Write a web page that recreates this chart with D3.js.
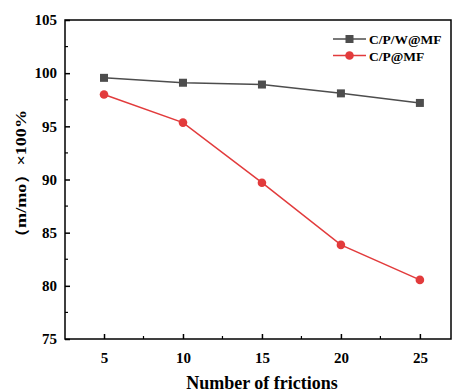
<!DOCTYPE html>
<html>
<head>
<meta charset="utf-8">
<script src="https://d3js.org/d3.v7.min.js"></script>
<style>
  body { margin: 0; background: #fff; }
  text { font-family: "Liberation Serif", "Times New Roman", serif; font-weight: bold; }
</style>
</head>
<body>
<svg id="chart" width="453" height="392"></svg>
<script>
var frictions = [5, 10, 15, 20, 25];
var cpwValues = [99.56, 99.1, 98.93, 98.1, 97.2];
var cpValues = [98.0, 95.35, 89.7, 83.85, 80.56];
var seriesNames = ["C/P/W@MF", "C/P@MF"];
var xTicks = [5, 10, 15, 20, 25];
var yTicks = [75, 80, 85, 90, 95, 100, 105];

var svg = d3.select("#chart");
var m = {left: 65, right: 2, top: 20, bottom: 53};
var width = 453 - m.left - m.right,
    height = 392 - m.top - m.bottom;

var x = d3.scaleLinear().domain([2.53, 26.97]).range([0, width]);
var y = d3.scaleLinear().domain([75, 105]).range([height, 0]);

var g = svg.append("g").attr("transform", "translate(" + m.left + "," + m.top + ")");

// frame
g.append("rect").attr("width", width).attr("height", height)
  .attr("fill", "none").attr("stroke", "black").attr("stroke-width", 1.5);

// minor ticks
var xMinor = d3.range(7.5, 26, 5);
var yMinor = d3.range(77.5, 105, 5);
g.selectAll(".xminor").data(xMinor).enter().append("line")
  .attr("x1", d => x(d)).attr("x2", d => x(d))
  .attr("y1", height).attr("y2", height - 3)
  .attr("stroke", "black").attr("stroke-width", 1.2);
g.selectAll(".yminor").data(yMinor).enter().append("line")
  .attr("x1", 0).attr("x2", 3)
  .attr("y1", d => y(d)).attr("y2", d => y(d))
  .attr("stroke", "black").attr("stroke-width", 1.2);

// axes
var xAxis = g.append("g").attr("transform", "translate(0," + height + ")")
  .call(d3.axisBottom(x).tickValues(xTicks).tickSizeInner(-5).tickSizeOuter(0).tickPadding(13));
var yAxis = g.append("g")
  .call(d3.axisLeft(y).tickValues(yTicks).tickSizeInner(-5).tickSizeOuter(0).tickPadding(8));
[xAxis, yAxis].forEach(function (a) {
  a.select(".domain").remove();
  a.selectAll("line").attr("stroke", "black").attr("stroke-width", 1.5);
  a.selectAll("text").style("font-size", "15px").style("font-family", "Liberation Serif").style("font-weight", "bold").attr("fill", "black");
});

// lines
var series = [
  {name: seriesNames[0], values: cpwValues, color: "#4d4d4d", shape: "square"},
  {name: seriesNames[1], values: cpValues, color: "#e23b3c", shape: "circle"}
];
var line = d3.line().x((d, i) => x(frictions[i])).y(d => y(d));

series.forEach(function (s) {
  g.append("path").datum(s.values).attr("d", line)
    .attr("fill", "none").attr("stroke", s.color).attr("stroke-width", 1.5);
  if (s.shape === "square") {
    g.selectAll(".sq").data(s.values).enter().append("rect")
      .attr("x", (d, i) => x(frictions[i]) - 4).attr("y", d => y(d) - 4)
      .attr("width", 8).attr("height", 8).attr("fill", s.color);
  } else {
    g.selectAll(".ci").data(s.values).enter().append("circle")
      .attr("cx", (d, i) => x(frictions[i])).attr("cy", d => y(d))
      .attr("r", 4.3).attr("fill", s.color);
  }
});

// legend
var leg = svg.append("g").attr("transform", "translate(333,39)");
series.forEach(function (s, i) {
  var row = leg.append("g").attr("transform", "translate(0," + (i * 16.5) + ")");
  row.append("line").attr("x1", 0).attr("x2", 33).attr("y1", 0).attr("y2", 0)
    .attr("stroke", s.color).attr("stroke-width", 1.5);
  if (s.shape === "square") {
    row.append("rect").attr("x", 12.5).attr("y", -4).attr("width", 8).attr("height", 8).attr("fill", s.color);
  } else {
    row.append("circle").attr("cx", 16.5).attr("cy", 0).attr("r", 4.3).attr("fill", s.color);
  }
  row.append("text").attr("x", 36).attr("y", 5).style("font-size", "13.5px").text(s.name);
});

// axis titles
svg.append("text").attr("x", 262).attr("y", 389)
  .attr("text-anchor", "middle").style("font-size", "18px").text("Number of frictions");
svg.append("text").attr("transform", "translate(26,178) rotate(-90)")
  .attr("text-anchor", "middle").style("font-size", "15px")
  .attr("textLength", 136).attr("lengthAdjust", "spacingAndGlyphs")
  .text("（m/mo）×100%");
</script>
</body>
</html>
